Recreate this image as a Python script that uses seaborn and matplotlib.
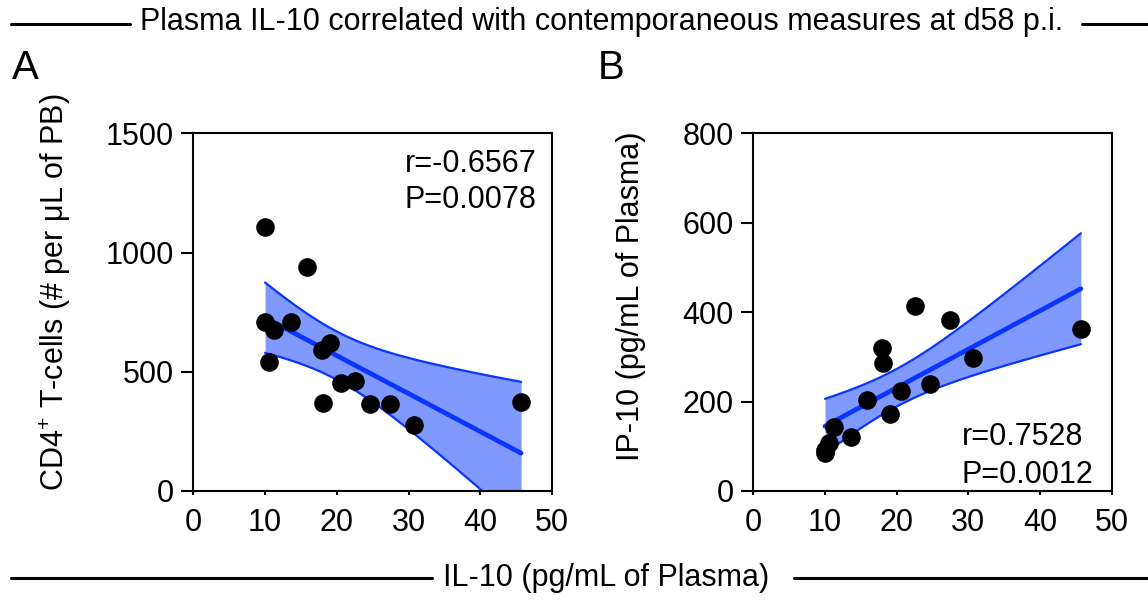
import numpy as np
import matplotlib
matplotlib.use("Agg")
import matplotlib.pyplot as plt
import seaborn as sns
from matplotlib.lines import Line2D

sns.set_style("ticks")
plt.rcParams["font.family"] = ["Liberation Sans", "DejaVu Sans"]
plt.rcParams["mathtext.fontset"] = "custom"
plt.rcParams["mathtext.rm"] = "Liberation Sans"
plt.rcParams["mathtext.it"] = "Liberation Sans:italic"
plt.rcParams["text.color"] = "black"
plt.rcParams["axes.labelcolor"] = "black"
plt.rcParams["xtick.color"] = "black"
plt.rcParams["ytick.color"] = "black"

# data (shared IL-10 on x)
il10 = [10.0, 10.0, 10.6, 11.3, 13.6, 15.8, 18.0, 18.1, 19.0, 20.6, 22.6, 24.7, 27.4, 30.7, 45.7]
cd4 = [1107, 707, 539, 675, 707, 940, 591, 370, 619, 451, 462, 364, 364, 276, 374]
ip10 = [84, 92, 107, 143, 121, 204, 319, 287, 172, 224, 413, 239, 383, 297, 363]

stats_a = ["r=-0.6567", "P=0.0078"]
stats_b = ["r=0.7528", "P=0.0012"]

dot = "black"
fit_col = "#0a35ff"
band_col = "#7f99ff"
T_CRIT = 2.160  # t(0.975, df=13)


def ci_band(ax, x, y):
    x = np.asarray(x, float)
    y = np.asarray(y, float)
    n = len(x)
    b, a = np.polyfit(x, y, 1)
    resid = y - (a + b * x)
    s = np.sqrt(np.sum(resid ** 2) / (n - 2))
    sxx = np.sum((x - x.mean()) ** 2)
    grid = np.linspace(x.min(), x.max(), 200)
    yhat = a + b * grid
    half = T_CRIT * s * np.sqrt(1 / n + (grid - x.mean()) ** 2 / sxx)
    ax.fill_between(grid, yhat - half, yhat + half, color=band_col, lw=0, zorder=1)
    ax.plot(grid, yhat - half, color=fit_col, lw=1.6, zorder=2)
    ax.plot(grid, yhat + half, color=fit_col, lw=1.6, zorder=2)


def panel(ax, y, ylim, yticks, ylabel, stats, stat_pos, label_xy):
    ci_band(ax, il10, y)
    sns.regplot(x=il10, y=y, ax=ax, ci=None, truncate=True,
                scatter_kws={"s": 180, "color": dot, "alpha": 1, "zorder": 4, "linewidths": 0},
                line_kws={"color": fit_col, "lw": 3.4, "zorder": 3})
    ax.set_xlim(0, 50)
    ax.set_ylim(*ylim)
    ax.set_xticks([0, 10, 20, 30, 40, 50])
    ax.set_yticks(yticks)
    for sp in ax.spines.values():
        sp.set_visible(True)
        sp.set_linewidth(1.5)
        sp.set_color("black")
    ax.tick_params(axis="y", length=9, width=1.5, labelsize=22, pad=5, colors="black")
    ax.tick_params(axis="x", length=3, width=1.5, labelsize=22, pad=9, colors="black")
    ax.set_ylabel(ylabel, fontsize=22, color="black")
    ax.yaxis.set_label_coords(*label_xy)
    for txt, (tx, ty) in zip(stats, stat_pos):
        ax.text(tx, ty, txt, transform=ax.transAxes, fontsize=22,
                ha="left", va="baseline", color="black")


fig = plt.figure(figsize=(11.48, 6), dpi=100)
ax_a = fig.add_axes([0.1684, 0.1817, 0.3124, 0.5961])
ax_b = fig.add_axes([0.6562, 0.1817, 0.3122, 0.5961])

panel(ax_a, cd4, (0, 1500), [0, 500, 1000, 1500],
      "CD4$^{+}$ T-cells (# per μL of PB)", stats_a,
      [(0.590, 0.893), (0.590, 0.791)], (-0.335, 0.555))
panel(ax_b, ip10, (0, 800), [0, 200, 400, 600, 800],
      "IP-10 (pg/mL of Plasma)", stats_b,
      [(0.582, 0.129), (0.582, 0.023)], (-0.30, 0.545))

# header and shared x label with rules
fig.text(0.524, 0.963, "Plasma IL-10 correlated with contemporaneous measures at d58 p.i.",
         fontsize=22, ha="center", va="center", color="black")
fig.add_artist(Line2D([11 / 1148, 130 / 1148], [0.960, 0.960], color="black", lw=2.2))
fig.add_artist(Line2D([1082 / 1148, 1.0], [0.960, 0.960], color="black", lw=2.2))

fig.text(0.528, 0.037, "IL-10 (pg/mL of Plasma)", fontsize=22, ha="center", va="center",
         color="black")
fig.add_artist(Line2D([11 / 1148, 432 / 1148], [0.036, 0.036], color="black", lw=2.2))
fig.add_artist(Line2D([794 / 1148, 1.0], [0.036, 0.036], color="black", lw=2.2))

fig.text(12 / 1148, 1 - 79 / 600, "A", fontsize=29, ha="left", va="baseline", color="black")
fig.text(598 / 1148, 1 - 79 / 600, "B", fontsize=29, ha="left", va="baseline", color="black")

fig.savefig("out.png", dpi=100)
